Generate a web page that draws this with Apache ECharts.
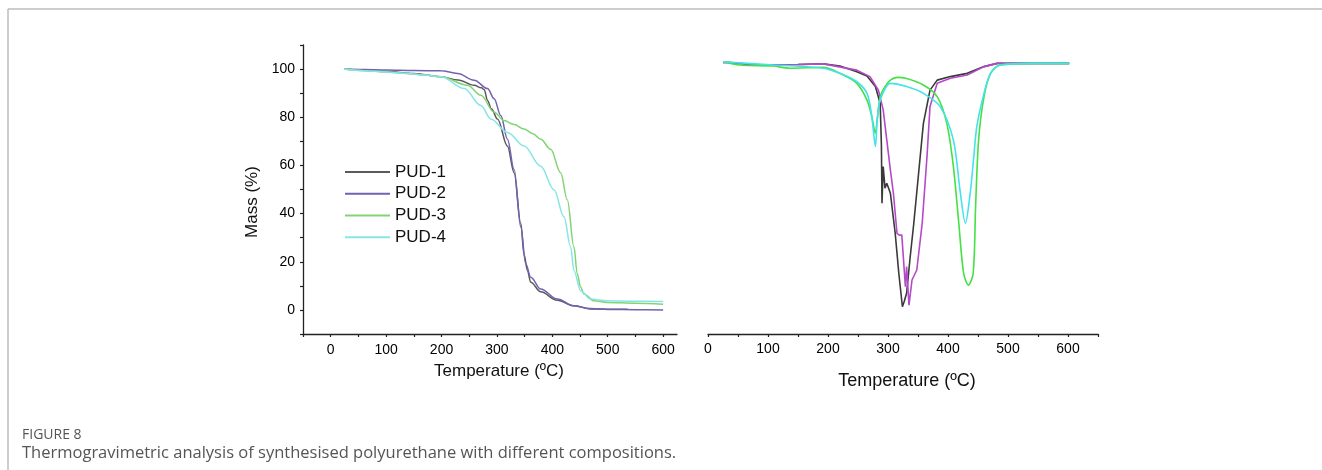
<!DOCTYPE html>
<html>
<head>
<meta charset="utf-8">
<script src="https://cdn.jsdelivr.net/npm/echarts@6/dist/echarts.min.js"></script>
<style>
  html, body { margin: 0; padding: 0; background: #fff; }
  #chart { width: 1322px; height: 470px; }
</style>
</head>
<body>
<div id="chart"></div>
<script>
// ---- TG curves (left panel): temperature (ºC) / mass (%) ----
const tgTemp1 = [24, 60, 100, 150, 199, 230, 259, 272, 277, 283, 290, 301, 319, 331, 343, 349, 355, 361, 379, 409, 439, 469, 500, 536];
const tgMass1 = [100, 99.5, 99, 98.2, 96.8, 95.5, 93.3, 92.2, 91.5, 87, 83.5, 79.3, 68, 57, 36, 23, 16.4, 11.5, 7.5, 4, 1.7, 0.4, 0.3, 0.3];
const tgTemp2 = [24, 60, 100, 150, 199, 229, 259, 283, 295, 307, 319, 331, 343, 352, 361, 379, 409, 439, 469, 500, 550, 600];
const tgMass2 = [100, 99.8, 99.6, 99.4, 99.3, 98.2, 95.4, 91.9, 87.7, 80.7, 70.9, 58.3, 34.5, 19.2, 13.6, 8.7, 4.5, 1.7, 0.6, 0.2, 0.1, 0];
const tgTemp3 = [24, 60, 100, 138, 170, 199, 247, 271, 295, 313, 331, 349, 365, 379, 397, 415, 427, 439, 445, 451, 457, 475, 499, 550, 600];
const tgMass3 = [100, 99.3, 98.8, 98.2, 97.5, 96.8, 93.3, 89.1, 82.1, 78.6, 77, 75.1, 73.2, 70.9, 66.7, 57, 45.7, 26.2, 15, 9.5, 6.6, 3.8, 3.1, 2.8, 2.4];
const tgTemp4 = [24, 60, 100, 138, 170, 199, 241, 271, 289, 319, 349, 379, 403, 421, 433, 439, 451, 469, 499, 550, 600];
const tgMass4 = [100, 99.3, 98.8, 98.2, 97.5, 96.8, 91.9, 84.9, 79.3, 73.7, 68.1, 59.7, 49.9, 38.7, 26.2, 16.4, 8, 4.5, 3.8, 3.6, 3.5];

// ---- DTG curves (right panel): temperature (ºC) / derivative (arb. units) ----
const dtgTemp1 = [25, 36, 81, 150, 192, 220, 248, 265, 279, 287, 289, 290, 292, 295, 298, 304, 312, 318, 324, 327, 331, 337, 343, 351, 359, 370, 382, 404, 432, 460, 482, 540, 602];
const dtgVal1 = [0.5, 0.5, -0.4, -0.2, 0, -0.8, -2.9, -4.5, -8.4, -14.6, -30, -51.6, -38, -46, -44.2, -47.9, -62.7, -77.5, -89.9, -88, -84.9, -71.4, -59, -40.5, -22, -9.7, -6, -4.7, -3.5, -1, 0.2, 0.2, 0.2];
const dtgTemp2 = [25, 36, 81, 150, 192, 248, 270, 284, 292, 298, 304, 309, 315, 319, 323, 329, 331, 335, 340, 348, 357, 365, 370, 382, 404, 432, 460, 482, 540, 602];
const dtgVal2 = [0.5, 0.5, -0.3, -0.2, 0, -2.3, -4.7, -9.7, -17, -28.2, -39.3, -47.9, -62.7, -63.4, -63.4, -82.5, -75, -89.3, -80, -76.3, -59, -34.3, -15.8, -7.2, -5.3, -4.1, -1, 0.2, 0.2, 0.2];
const dtgTemp3 = [25, 53, 109, 136, 192, 220, 248, 265, 273, 279, 282, 287, 295, 304, 315, 331, 359, 382, 398, 409, 418, 426, 434, 442, 446, 451, 460, 471, 487, 540, 602];
const dtgVal3 = [0.8, -0.4, -0.8, -1.6, -1.3, -3.5, -7.2, -13.4, -19.5, -25.7, -20.7, -12.1, -8.4, -6, -5, -5.4, -7.8, -12.1, -22, -38, -59, -77.5, -81.9, -77.5, -52.9, -28.2, -12.1, -3.5, -0.4, 0.2, 0.2];
const dtgTemp4 = [25, 109, 192, 220, 248, 265, 273, 279, 282, 287, 304, 331, 359, 387, 409, 420, 429, 437, 443, 448, 460, 471, 487, 540, 602];
const dtgVal4 = [0.8, -0.4, -1.6, -3.5, -6.6, -10.9, -19.5, -30.6, -20.7, -13.4, -7.2, -8.4, -10.9, -15.8, -28.2, -46.7, -59, -47.9, -34.3, -23.2, -10.9, -3.5, -0.4, 0.2, 0.2];

const names = ["PUD-1", "PUD-2", "PUD-3", "PUD-4"];
const tgColors = ["#5a5a5a", "#7262b2", "#84d276", "#86e6e6"];
const dtgColors = ["#3a3a3a", "#b44ac8", "#44e044", "#44e2ea"];

const pairs = (xs, ys) => xs.map((x, i) => [x, ys[i]]);

const chart = echarts.init(document.getElementById("chart"));
const FONT = "Liberation Sans, Arial, sans-serif";
const axisLabel = { fontFamily: FONT, fontSize: 14, color: "#000" };
const axisLine = { show: true, onZero: false, lineStyle: { color: "#222", width: 1.3 } };
const axisTick = { show: true, length: 3, lineStyle: { color: "#222", width: 1.2 } };

const tg = [
  [tgTemp1, tgMass1],
  [tgTemp2, tgMass2],
  [tgTemp3, tgMass3],
  [tgTemp4, tgMass4],
];
const dtg = [
  [dtgTemp1, dtgVal1],
  [dtgTemp2, dtgVal2],
  [dtgTemp3, dtgVal3],
  [dtgTemp4, dtgVal4],
];

const series = [];
tg.forEach(([xs, ys], i) => {
  series.push({
    name: names[i],
    type: "line",
    xAxisIndex: 0,
    yAxisIndex: 0,
    data: pairs(xs, ys),
    symbol: "none",
    smooth: 0.35,
    smoothMonotone: "x",
    color: tgColors[i],
    lineStyle: { width: 1.5, color: tgColors[i] },
  });
});
dtg.forEach(([xs, ys], i) => {
  series.push({
    name: "DTG " + names[i],
    type: "line",
    xAxisIndex: 1,
    yAxisIndex: 1,
    data: pairs(xs, ys),
    symbol: "none",
    smooth: i < 2 ? false : 0.3,
    color: dtgColors[i],
    lineStyle: { width: 1.6, color: dtgColors[i] },
  });
});

chart.setOption({
  animation: false,
  backgroundColor: "#fff",
  title: [
    {
      text: "FIGURE 8",
      left: 22,
      top: 428,
      padding: 0,
      textStyle: { fontFamily: "Open Sans", fontSize: 14, fontWeight: "normal", color: "#555" },
    },
    {
      text: "Thermogravimetric analysis of synthesised polyurethane with different compositions.",
      left: 22,
      top: 445,
      padding: 0,
      textStyle: { fontFamily: "Open Sans", fontSize: 16.5, fontWeight: "normal", color: "#555" },
    },
  ],
  graphic: [
    { type: "line", shape: { x1: 8, y1: 9, x2: 1322, y2: 9 }, style: { stroke: "#bcbcbc", lineWidth: 1.5 } },
    { type: "line", shape: { x1: 8, y1: 9, x2: 8, y2: 470 }, style: { stroke: "#bcbcbc", lineWidth: 1.5 } },
  ],
  legend: {
    data: names,
    orient: "vertical",
    left: 345,
    top: 161,
    icon: "rect",
    itemWidth: 45,
    itemHeight: 2,
    itemGap: 0,
    padding: 0,
    textStyle: { fontFamily: FONT, fontSize: 17, lineHeight: 21.8, color: "#111" },
  },
  grid: [
    { left: 303, top: 45, width: 374, height: 289 },
    { left: 708, top: 45, width: 390, height: 289 },
  ],
  xAxis: [
    {
      gridIndex: 0,
      type: "value",
      min: -50,
      max: 625,
      interval: 50,
      name: "Temperature (ºC)",
      nameLocation: "middle",
      nameGap: 29,
      nameTextStyle: { fontFamily: FONT, fontSize: 17, color: "#111", padding: [0, 0, 0, 18] },
      axisLine,
      axisTick,
      axisLabel: {
        ...axisLabel,
        margin: 9,
        showMaxLabel: false,
        formatter: (v) => (v >= 0 && v % 100 === 0 ? String(v) : ""),
      },
      splitLine: { show: false },
    },
    {
      gridIndex: 1,
      type: "value",
      min: 0,
      max: 650,
      interval: 50,
      name: "Temperature (ºC)",
      nameLocation: "middle",
      nameGap: 38,
      nameTextStyle: { fontFamily: FONT, fontSize: 18, color: "#111", padding: [0, 0, 0, 8] },
      axisLine,
      axisTick,
      axisLabel: {
        ...axisLabel,
        margin: 8,
        formatter: (v) => (v % 100 === 0 ? String(v) : ""),
      },
      splitLine: { show: false },
    },
  ],
  yAxis: [
    {
      gridIndex: 0,
      type: "value",
      min: -10,
      max: 110,
      interval: 10,
      name: "Mass (%)",
      nameLocation: "middle",
      nameGap: 42,
      nameTextStyle: { fontFamily: FONT, fontSize: 17, color: "#111", padding: [0, 25, 0, 0] },
      axisLine,
      axisTick,
      axisLabel: {
        ...axisLabel,
        margin: 8,
        formatter: (v) => (v >= 0 && v <= 100 && v % 20 === 0 ? String(v) : ""),
      },
      splitLine: { show: false },
    },
    {
      gridIndex: 1,
      type: "value",
      min: -100,
      max: 7,
      show: false,
      splitLine: { show: false },
    },
  ],
  series,
});
</script>
</body>
</html>
